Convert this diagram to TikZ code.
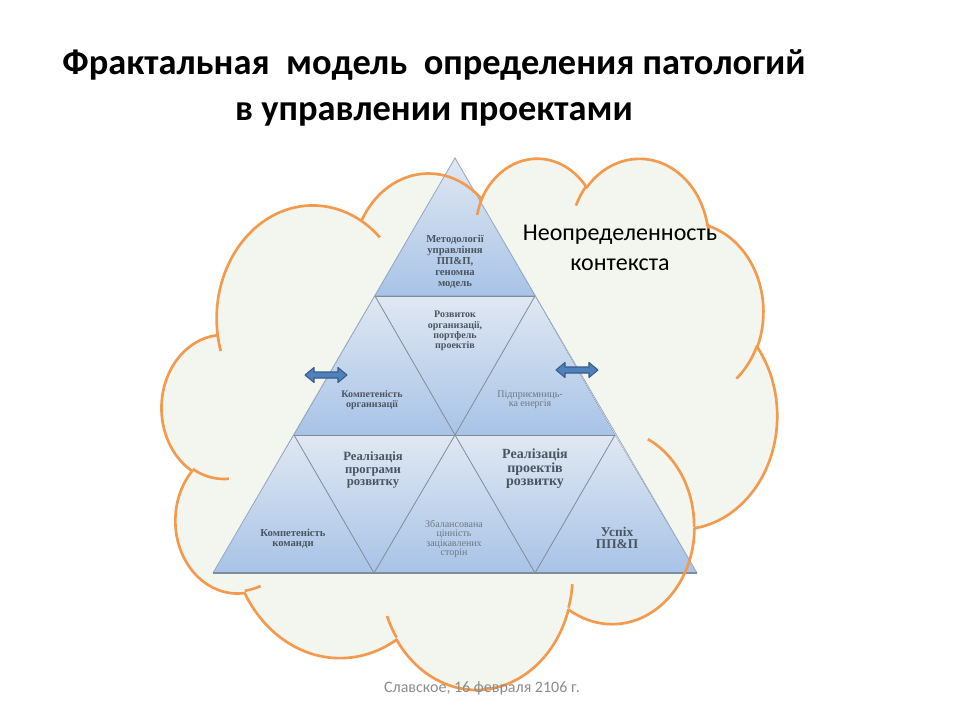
\documentclass[tikz,border=0pt]{standalone}
\usepackage{fontspec}
\setmainfont{Liberation Serif}
\newfontfamily\calibri{Carlito}
\newfontfamily\tnr{Liberation Serif}
\definecolor{cloudfill}{HTML}{F3F6EE}
\definecolor{cloudline}{HTML}{F39A4E}
\definecolor{tritop}{HTML}{E0E8F2}
\definecolor{tribot}{HTML}{A8C3E7}
\definecolor{triline}{HTML}{7F8C9A}
\definecolor{triedge}{HTML}{98ACC6}
\definecolor{txtdark}{HTML}{4A5561}
\definecolor{txtlight}{HTML}{6E7882}
\definecolor{arrfill}{HTML}{4F81BD}
\definecolor{arrline}{HTML}{385D8A}
\definecolor{footgray}{HTML}{8C8C8C}
\tikzset{
  cloudsty/.style={draw=cloudline, line width=2pt, line join=round},
  rowshade/.style={top color=tritop, bottom color=tribot},
  divline/.style={draw=triline, line width=0.6pt},
  edgeline/.style={draw=triedge, line width=0.6pt},
  boldtxt/.style={text=txtdark, align=center, inner sep=0pt},
  thintxt/.style={text=txtlight, align=center, inner sep=0pt},
  cloudframe/.style={shift={(162,157)}, x=0.1067708pt, y=-0.0921875pt},
  pics/dblarrow/.style={code={
    \filldraw[fill=arrfill, draw=arrline, line width=0.8pt, line join=round]
      (-21,0) -- (-12,-7.5) -- (-12,-3) -- (12,-3) -- (12,-7.5) -- (21,0)
      -- (12,7.5) -- (12,3) -- (-12,3) -- (-12,7.5) -- cycle;}}
}
% visual (DrawingML) angle -> parametric ellipse angle
\newcommand\ooang[4]{%
  \pgfmathsetmacro\ootmp{atan2(#2*sin(#4), #3*cos(#4))}%
  \pgfmathsetmacro\ook{round((#4-\ootmp)/360)}%
  \pgfmathsetmacro#1{\ootmp+360*\ook}%
}
% one arc: #1 rx, #2 ry, #3 visual start, #4 visual end
\newcommand\ooarc[4]{%
  \ooang\oos{#1}{#2}{#3}\ooang\ooe{#1}{#2}{#4}%
  \edef\ooresult{arc[start angle=\oos, end angle=\ooe, x radius=#1, y radius=#2]}%
}
\begin{document}
\begin{tikzpicture}[x=0.75pt,y=-0.75pt]
\useasboundingbox (0,0) rectangle (960,720);
\fill[white] (0,0) rectangle (960,720);
% precompute arcs of the cloud outline
\ooarc{675.3}{919.0}{-190.4875}{-66.7070}\let\arcA\ooresult
\ooarc{533.3}{726.7}{-144.1024}{-54.1572}\let\arcB\ooresult
\ooarc{436.5}{594.5}{-145.8079}{-46.0849}\let\arcC\ooresult
\ooarc{485.7}{659.5}{-130.9861}{-13.7444}\let\arcD\ooresult
\ooarc{533.3}{727.3}{-78.7089}{30.3180}\let\arcE\ooresult
\ooarc{677.5}{922.0}{-46.2673}{84.0017}\let\arcF\ooresult
\ooarc{578.5}{786.7}{0.6250}{114.6583}\let\arcG\ooresult
\ooarc{675.2}{921.5}{22.4516}{137.6242}\let\arcH\ooresult
\ooarc{772.0}{1054.3}{66.2426}{141.9536}\let\arcI\ooresult
\ooarc{436.0}{591.8}{-274.9421}{-128.2065}\let\arcJ\ooresult
\ooarc{434.5}{594.5}{-246.8285}{-94.3096}\let\arcK\ooresult
% inner arcs
\ooarc{434.5}{594.5}{86.7420}{113.1715}\let\inA\ooresult
\ooarc{436.0}{591.8}{73.6105}{85.0580}\let\inB\ooresult
\ooarc{675.2}{921.5}{137.6242}{151.7053}\let\inC\ooresult
\ooarc{675.2}{921.5}{6.4533}{22.4517}\let\inD\ooresult
\ooarc{578.5}{786.7}{-70.2924}{0.6250}\let\inE\ooresult
\ooarc{533.3}{727.3}{30.3180}{58.0695}\let\inF\ooresult
\ooarc{485.7}{659.5}{-13.7443}{1.1146}\let\inG\ooresult
\ooarc{485.7}{659.5}{-149.1815}{-130.9861}\let\inH\ooresult
\ooarc{436.5}{594.5}{-163.4943}{-145.8079}\let\inI\ooresult
\ooarc{675.3}{919.0}{-66.7070}{-54.3876}\let\inJ\ooresult
\ooarc{675.3}{919.0}{157.6544}{169.5126}\let\inK\ooresult
\def\cloudpath{(390,1437) \arcA \arcB \arcC \arcD \arcE \arcF \arcG \arcH \arcI \arcJ \arcK -- cycle}
% cloud fill
\begin{scope}[cloudframe]
  \fill[cloudfill] \cloudpath;
\end{scope}
% triangle vertices
\coordinate (P0) at (455,158);
\coordinate (P1) at (375,296);
\coordinate (P2) at (535,296);
\coordinate (P3) at (294,435);
\coordinate (P4) at (455,435);
\coordinate (P5) at (615,435);
\coordinate (P6) at (213,573);
\coordinate (P7) at (374,573);
\coordinate (P8) at (535,573);
\coordinate (P9) at (697,573);
% shaded rows
\fill[rowshade] (P0) -- (P2) -- (P1) -- cycle;
\fill[rowshade] (P1) -- (P2) -- (P5) -- (P3) -- cycle;
\fill[rowshade] (P3) -- (P5) -- (P9) -- (P6) -- cycle;
% dividers
\draw[divline] (P1) -- (P2) (P3) -- (P5);
\draw[divline] (P1) -- (P4) -- (P2);
\draw[divline] (P3) -- (P7) -- (P4) -- (P8) -- (P5);
\draw[edgeline] (P6) -- (P0) -- (P9);
\draw[draw=triline, line width=1pt] (P6) -- (P9);
% cloud outline and inner arcs
\begin{scope}[cloudframe]
  \draw[cloudsty] \cloudpath;
  \draw[cloudsty] (469.3,2617.7) \inA;
  \draw[cloudsty] (692.8,3489.9) \inB;
  \draw[cloudsty] (1647.8,3909.0) \inC;
  \draw[cloudsty] (2882.7,3475.1) \inD;
  \draw[cloudsty] (3412.9,2295.4) \inE;
  \draw[cloudsty] (4179.8,1535.4) \inF;
  \draw[cloudsty] (3832.4,542.6) \inG;
  \draw[cloudsty] (2907.8,395.2) \inH;
  \draw[cloudsty] (2214.1,472.0) \inI;
  \draw[cloudsty] (1400.0,519.2) \inJ;
  \draw[cloudsty] (412.7,1578.9) \inK;
\end{scope}
% arrows
\pic at (326,375) {dblarrow};
\pic at (577,370) {dblarrow};
% title
\node[font=\calibri\bfseries\fontsize{27.3}{34.5}\selectfont, align=center, inner sep=0pt]
  (title) at (434,88) {Фрактальная\ \ модель\ \ определения патологий\\в управлении проектами};
\node[font=\calibri\fontsize{18}{22}\selectfont, align=center, inner sep=0pt]
  (ctx) at (620,248) {Неопределенность\\контекста};
\node[font=\calibri\fontsize{12}{13}\selectfont, text=footgray, inner sep=0pt]
  (foot) at (482,688) {Славское, 16 февраля 2106 г.};
% triangle texts
\node[boldtxt, font=\tnr\bfseries\fontsize{8}{8.3}\selectfont] (t1) at (455,262)
  {Методології\\управління\\ПП\&П,\\геномна\\модель};
\node[boldtxt, font=\tnr\bfseries\fontsize{7.5}{7.8}\selectfont] (t2) at (455,331)
  {Розвиток\\организації,\\портфель\\проектів};
\node[boldtxt, font=\tnr\bfseries\fontsize{7.5}{7}\selectfont] (t3) at (372,400)
  {Компетеність\\организації};
\node[thintxt, font=\tnr\fontsize{7.5}{7}\selectfont] (t4) at (530,400)
  {Підприємниць-\\ка енергія};
\node[boldtxt, font=\tnr\bfseries\fontsize{9.5}{9.3}\selectfont] (t5) at (373,470)
  {Реалізація\\програми\\розвитку};
\node[boldtxt, font=\tnr\bfseries\fontsize{10.5}{10.2}\selectfont] (t6) at (535,469)
  {Реалізація\\проектів\\розвитку};
\node[boldtxt, font=\tnr\bfseries\fontsize{8}{7.2}\selectfont] (t7) at (293,539)
  {Компетеність\\команди};
\node[thintxt, font=\tnr\fontsize{7.5}{6.8}\selectfont] (t8) at (454,539)
  {Збалансована\\цінність\\зацікавлених\\сторін};
\node[boldtxt, font=\tnr\bfseries\fontsize{10}{8.5}\selectfont] (t9) at (617,538)
  {Успіх\\ПП\&П};
\end{tikzpicture}
\end{document}
